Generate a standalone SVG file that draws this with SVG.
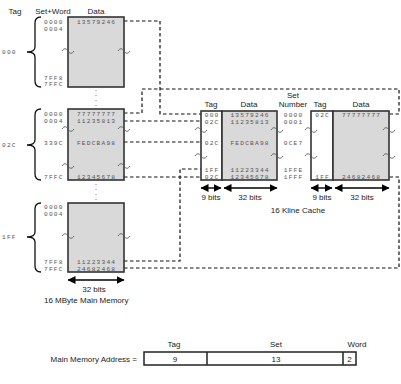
<svg xmlns="http://www.w3.org/2000/svg" width="401" height="384" viewBox="0 0 401 384">
<defs>
<marker id="ah" viewBox="0 0 8 8" refX="7.5" refY="4" markerWidth="8" markerHeight="8" markerUnits="userSpaceOnUse" orient="auto-start-reverse"><path d="M0,0 L8,4 L0,8 z" fill="#000"/></marker>
<style>
.lbl{font-family:"Liberation Sans",Arial,sans-serif;font-size:8px;fill:#222}
.mono{font-family:"Liberation Mono","Courier New",monospace;font-size:6.2px;letter-spacing:1.2px;fill:#555}
.mem{fill:#d9d9d9;stroke:#333;stroke-width:1.6}
.tagbox{fill:#fff;stroke:#333;stroke-width:1.6}
.dash{fill:none;stroke:#111;stroke-width:1.2;stroke-dasharray:3.5 2.5}
.dot{fill:none;stroke:#888;stroke-width:1;stroke-dasharray:1 4}
.brace{fill:none;stroke:#111;stroke-width:1.3}
.tl{fill:none;stroke:#555;stroke-width:0.9}
.arr{stroke:#000;stroke-width:1.4;marker-start:url(#ah);marker-end:url(#ah)}
.m{text-anchor:middle}
.e{text-anchor:end}
</style>
</defs>
<rect width="401" height="384" fill="#fff"/>

<!-- headers -->
<text class="lbl m" x="15" y="14">Tag</text>
<text class="lbl m" x="53" y="14">Set+Word</text>
<text class="lbl m" x="96" y="14">Data</text>

<!-- connectors -->
<g id="connectors">
<path class="dash" d="M124,21 H160 V114 H201"/>
<path class="dash" d="M124,113 H142 V89 H399 V114 H389"/>
<path class="dash" d="M124,121 H201"/>
<path class="dash" d="M124,142 H201"/>
<path class="dash" d="M124,177 H201"/>
<path class="dash" d="M124,261 H180 V169 H201"/>
<path class="dash" d="M124,268 H399 V177 H389"/>
<path class="dot" d="M96,90 V107 M96,184 V201"/>
</g>

<!-- main memory block 000 -->
<g id="mm-000">
<path class="brace" d="M41,17 Q35,17 35,23 L35,47 Q35,52 27,52 Q35,52 35,57 L35,81 Q35,87 41,87"/>
<text class="mono" x="2" y="54">000</text>
<rect class="mem" x="68" y="17" width="56" height="70"/>
<text class="mono" x="44" y="23.5">0000</text>
<text class="mono" x="44" y="30.5">0004</text>
<text class="mono" x="44" y="79.5">7FF8</text>
<text class="mono" x="44" y="86">7FFC</text>
<text class="mono m" x="96.6" y="23.5">13579246</text>
<path class="tl" d="M62,51 c2,-3 4,-3 6,0 s4,3 6,0"/>
<path class="tl" d="M118,51 c2,-3 4,-3 6,0 s4,3 6,0"/>
</g>

<!-- main memory block 02C -->
<g id="mm-02C">
<path class="brace" d="M41,109 Q35,109 35,115 L35,140 Q35,145 27,145 Q35,145 35,150 L35,174 Q35,180 41,180"/>
<text class="mono" x="2" y="147">02C</text>
<rect class="mem" x="68" y="109" width="56" height="71"/>
<text class="mono" x="44" y="115.5">0000</text>
<text class="mono" x="44" y="123">0004</text>
<text class="mono" x="44" y="144.5">339C</text>
<text class="mono" x="44" y="179">7FFC</text>
<text class="mono m" x="96.6" y="115.5">77777777</text>
<text class="mono m" x="96.6" y="123">11235813</text>
<text class="mono m" x="96.6" y="144.5">FEDCBA98</text>
<text class="mono m" x="96.6" y="179">12345678</text>
<path class="tl" d="M62,129 c2,-3 4,-3 6,0 s4,3 6,0"/>
<path class="tl" d="M118,129 c2,-3 4,-3 6,0 s4,3 6,0"/>
<path class="tl" d="M62,166 c2,-3 4,-3 6,0 s4,3 6,0"/>
<path class="tl" d="M118,166 c2,-3 4,-3 6,0 s4,3 6,0"/>
</g>

<!-- main memory block 1FF -->
<g id="mm-1FF">
<path class="brace" d="M41,203 Q35,203 35,209 L35,232 Q35,237 27,237 Q35,237 35,242 L35,266 Q35,272 41,272"/>
<text class="mono" x="2" y="239">1FF</text>
<rect class="mem" x="68" y="203" width="56" height="69"/>
<text class="mono" x="44" y="208.5">0000</text>
<text class="mono" x="44" y="215.5">0004</text>
<text class="mono" x="44" y="263.5">7FF8</text>
<text class="mono" x="44" y="270.5">7FFC</text>
<text class="mono m" x="96.6" y="263.5">11223344</text>
<text class="mono m" x="96.6" y="270.5">24682468</text>
<path class="tl" d="M62,236 c2,-3 4,-3 6,0 s4,3 6,0"/>
<path class="tl" d="M118,236 c2,-3 4,-3 6,0 s4,3 6,0"/>
</g>

<g id="mm-width">
<line class="arr" x1="68" y1="280" x2="124" y2="280"/>
<text class="lbl m" x="94" y="292">32 bits</text>
<text class="lbl" x="44" y="303">16 MByte Main Memory</text>
</g>

<!-- cache way 1 -->
<g id="cache-way1">
<text class="lbl m" x="211" y="107">Tag</text>
<text class="lbl m" x="249" y="107">Data</text>
<rect class="tagbox" x="201" y="111" width="21" height="69"/>
<rect class="mem" x="222" y="111" width="55" height="69"/>
<text class="mono m" x="212.1" y="116.5">000</text>
<text class="mono m" x="212.1" y="123.5">02C</text>
<text class="mono m" x="212.1" y="144.5">02C</text>
<text class="mono m" x="212.1" y="171.5">1FF</text>
<text class="mono m" x="212.1" y="178.5">02C</text>
<text class="mono m" x="250.1" y="116.5">13579246</text>
<text class="mono m" x="250.1" y="123.5">11235813</text>
<text class="mono m" x="250.1" y="144.5">FEDCBA98</text>
<text class="mono m" x="250.1" y="171.5">11223344</text>
<text class="mono m" x="250.1" y="178.5">12345678</text>
<path class="tl" d="M195,130 c2,-3 4,-3 6,0 s4,3 6,0"/>
<path class="tl" d="M195,156 c2,-3 4,-3 6,0 s4,3 6,0"/>
<path class="tl" d="M271,130 c2,-3 4,-3 6,0 s4,3 6,0"/>
<path class="tl" d="M271,156 c2,-3 4,-3 6,0 s4,3 6,0"/>
<line class="arr" x1="201" y1="188" x2="221" y2="188"/>
<line class="arr" x1="224" y1="188" x2="277" y2="188"/>
<text class="lbl m" x="211" y="200">9 bits</text>
<text class="lbl m" x="250" y="200">32 bits</text>
</g>

<!-- set numbers -->
<g id="set-number">
<text class="lbl m" x="293" y="98">Set</text>
<text class="lbl m" x="293" y="107">Number</text>
<text class="mono m" x="293.6" y="116.5">0000</text>
<text class="mono m" x="293.6" y="123.5">0001</text>
<text class="mono m" x="293.6" y="144.5">0CE7</text>
<text class="mono m" x="293.6" y="171.5">1FFE</text>
<text class="mono m" x="293.6" y="178.5">1FFF</text>
</g>

<!-- cache way 2 -->
<g id="cache-way2">
<text class="lbl m" x="320" y="107">Tag</text>
<text class="lbl m" x="361" y="107">Data</text>
<rect class="tagbox" x="311" y="111" width="22" height="69"/>
<rect class="mem" x="333" y="111" width="56" height="69"/>
<text class="mono m" x="322.6" y="116.5">02C</text>
<text class="mono m" x="322.6" y="178.5">1FF</text>
<text class="mono m" x="361.6" y="116.5">77777777</text>
<text class="mono m" x="361.6" y="178.5">24682468</text>
<path class="tl" d="M305,130 c2,-3 4,-3 6,0 s4,3 6,0"/>
<path class="tl" d="M305,156 c2,-3 4,-3 6,0 s4,3 6,0"/>
<path class="tl" d="M383,130 c2,-3 4,-3 6,0 s4,3 6,0"/>
<path class="tl" d="M383,156 c2,-3 4,-3 6,0 s4,3 6,0"/>
<line class="arr" x1="311" y1="188" x2="332" y2="188"/>
<line class="arr" x1="335" y1="188" x2="389" y2="188"/>
<text class="lbl m" x="322" y="200">9 bits</text>
<text class="lbl m" x="362" y="200">32 bits</text>
</g>

<text class="lbl m" x="298" y="213">16 Kline Cache</text>

<!-- address format -->
<g id="address">
<text class="lbl e" x="137" y="362">Main Memory Address =</text>
<text class="lbl m" x="174" y="347">Tag</text>
<text class="lbl m" x="276" y="347">Set</text>
<text class="lbl m" x="357" y="347">Word</text>
<rect x="144" y="352" width="212" height="13" fill="#fff" stroke="#222" stroke-width="1.5"/>
<line x1="207" y1="352" x2="207" y2="365" stroke="#222" stroke-width="1.5"/>
<line x1="343" y1="352" x2="343" y2="365" stroke="#222" stroke-width="1.5"/>
<text class="lbl m" x="175" y="362">9</text>
<text class="lbl m" x="276" y="362">13</text>
<text class="lbl m" x="349.5" y="362">2</text>
</g>
</svg>
